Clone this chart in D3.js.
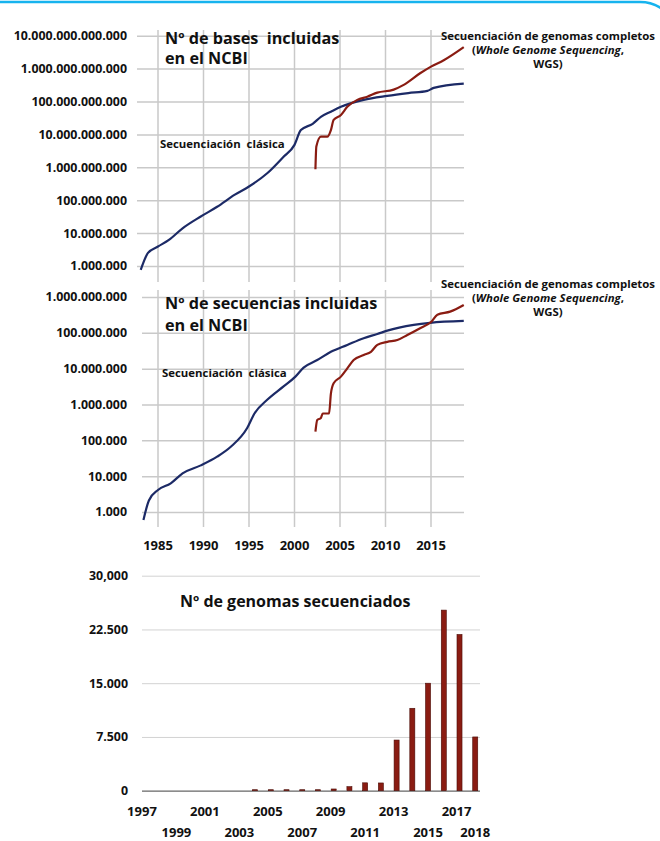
<!DOCTYPE html>
<html lang="es">
<head>
<meta charset="UTF-8">
<title>NCBI: bases, secuencias y genomas</title>
<script src="https://d3js.org/d3.v7.min.js"></script>
<style>
  body { margin: 0; background: #fff; }
  svg { display: block; }
  text { white-space: pre; }
  .axis text, .lab { font-family: "Open Sans", sans-serif; font-weight: 700; fill: #111; }
  .title { font-family: "Open Sans", sans-serif; font-weight: 700; fill: #111; }
  .note { font-family: "Open Sans", sans-serif; font-weight: 700; font-size: 11.4px; fill: #111; }
</style>
</head>
<body>
<script>
// --- data ---
const gridYears = [1985, 1990, 1995, 2000, 2005, 2010, 2015];

const basesTicks = [1e6, 1e7, 1e8, 1e9, 1e10, 1e11, 1e12, 1e13];
const basesClassicYears = [1983.1, 1983.9, 1985.0, 1986.2, 1987.7, 1989.7, 1991.5, 1993.4, 1995.0, 1997.0, 1998.8, 2000.0, 2000.7, 2002.0, 2002.9, 2004.0, 2005.1, 2007.6, 2010.2, 2012.5, 2014.6, 2015.3, 2018.6];
const basesClassic = [7.6e5, 2.5e6, 3.9e6, 6.2e6, 1.4e7, 3.2e7, 6.3e7, 1.45e8, 2.6e8, 6.6e8, 2.1e9, 4.8e9, 1.35e10, 2.1e10, 3.4e10, 4.9e10, 6.9e10, 1.12e11, 1.48e11, 1.8e11, 2.1e11, 2.6e11, 3.5e11];
const basesWgsYears = [2002.3, 2002.4, 2002.9, 2003.6, 2004.0, 2004.3, 2005.1, 2005.8, 2006.9, 2008.0, 2009.1, 2010.9, 2012.0, 2013.8, 2015.0, 2016.4, 2018.6];
const basesWgs = [8.7e8, 4.3e9, 8.5e9, 8.5e9, 1.35e10, 2.75e10, 3.9e10, 6.9e10, 1.12e11, 1.4e11, 1.86e11, 2.3e11, 3.2e11, 7.2e11, 1.15e12, 1.8e12, 4.5e12];

const seqTicks = [1e3, 1e4, 1e5, 1e6, 1e7, 1e8, 1e9];
const seqClassicYears = [1983.4, 1984.0, 1985.0, 1986.4, 1987.7, 1989.7, 1991.5, 1993.0, 1994.8, 1995.6, 1997.0, 1998.8, 2000.1, 2001.0, 2002.5, 2004.0, 2005.8, 2007.6, 2009.1, 2010.2, 2013.1, 2014.9, 2018.6];
const seqClassic = [600, 2100, 4100, 6300, 1.2e4, 2.0e4, 3.5e4, 6.6e4, 2.2e5, 5.6e5, 1.35e6, 3.2e6, 6.0e6, 1.07e7, 1.74e7, 2.95e7, 4.6e7, 7.1e7, 9.3e7, 1.15e8, 1.66e8, 1.9e8, 2.15e8];
const seqWgsYears = [2002.3, 2002.5, 2002.9, 2003.1, 2003.8, 2004.0, 2004.3, 2005.1, 2005.8, 2006.5, 2007.6, 2008.4, 2009.1, 2010.2, 2011.3, 2012.4, 2013.8, 2015.0, 2015.7, 2017.1, 2018.6];
const seqWgs = [1.74e5, 3.7e5, 4.2e5, 5.6e5, 5.6e5, 2.0e6, 3.9e6, 6.0e6, 1.02e7, 1.74e7, 2.4e7, 2.95e7, 4.6e7, 5.6e7, 6.3e7, 8.7e7, 1.35e8, 2.0e8, 3.2e8, 3.9e8, 6.0e8];

const genomeYears = [1997, 1998, 1999, 2000, 2001, 2002, 2003, 2004, 2005, 2006, 2007, 2008, 2009, 2010, 2011, 2012, 2013, 2014, 2015, 2016, 2017, 2018];
const genomes = [0, 0, 0, 0, 0, 0, 0, 60, 60, 60, 60, 100, 240, 560, 1100, 1080, 7070, 11500, 15000, 25200, 21800, 7500];
const genomeTicks = [0, 7500, 15000, 22500, 30000];
const genomeTickLabels = ["0", "7.500", "15.000", "22.500", "30,000"];
const labelRowA = [1997, 2001, 2005, 2009, 2013, 2017];
const labelRowB = [1999, 2003, 2007, 2011, 2015, 2018];

const BLUE = "#1c2a66", RED = "#8a1c12", GRID = "#c9c9c9";

const W = 660, H = 841;
const svg = d3.select("body").append("svg").attr("width", W).attr("height", H);

const dotFmt = v => d3.format(",.0f")(v).replace(/,/g, ".");
const x = d3.scaleLinear().domain([1985, 2015]).range([158, 431]);

function logPanel(opt) {
    const y = d3.scaleLog().domain(opt.ydom).range(opt.yrange);
    const g = svg.append("g");

    // vertical grid
    g.selectAll(".vg").data(gridYears).enter().append("line")
        .attr("x1", d => x(d)).attr("x2", d => x(d))
        .attr("y1", opt.vtop).attr("y2", opt.vbot)
        .attr("stroke", GRID).attr("stroke-width", 1.5);

    // horizontal grid + labels
    const ax = g.append("g").attr("class", "axis")
        .attr("transform", `translate(${opt.left},0)`)
        .call(d3.axisLeft(y).tickValues(opt.ticks).tickFormat(dotFmt)
            .tickSize(-(464 - opt.left)).tickPadding(opt.pad));
    ax.select(".domain").remove();
    ax.selectAll(".tick line").attr("stroke", GRID).attr("stroke-width", 1.5);
    ax.selectAll(".tick text").attr("font-size", opt.fs);

    const line = d3.line().x(d => x(d[0])).y(d => y(d[1])).curve(d3.curveMonotoneX);
    g.append("path").datum(d3.zip(opt.cy, opt.cv)).attr("d", line)
        .attr("fill", "none").attr("stroke", BLUE).attr("stroke-width", 2.2);
    g.append("path").datum(d3.zip(opt.wy, opt.wv)).attr("d", line)
        .attr("fill", "none").attr("stroke", RED).attr("stroke-width", 2.2);

    const t = g.append("text").attr("class", "title").attr("font-size", 16.2);
    t.append("tspan").attr("x", 165).attr("y", opt.titleY).text(opt.title);
    t.append("tspan").attr("x", 165).attr("y", opt.titleY + opt.titleGap).text("en el NCBI");

    g.append("text").attr("class", "note").attr("font-size", 11.8).attr("x", opt.clx).attr("y", opt.cly)
        .text("Secuenciación  clásica");

    const n = g.append("text").attr("class", "note").attr("text-anchor", "middle");
    n.append("tspan").attr("x", 548).attr("y", opt.noteY).text("Secuenciación de genomas completos");
    const l2 = n.append("tspan").attr("x", 548).attr("y", opt.noteY + 14);
    l2.append("tspan").text("(");
    l2.append("tspan").attr("font-style", "italic").text("Whole Genome Sequencing");
    l2.append("tspan").text(",");
    n.append("tspan").attr("x", 548).attr("y", opt.noteY + 28).text("WGS)");
    return y;
}

logPanel({
    ydom: [1e6, 1e13], yrange: [266, 35.7], ticks: basesTicks, left: 137, pad: 10, fs: 12.4,
    vtop: 30, vbot: 282,
    cy: basesClassicYears, cv: basesClassic, wy: basesWgsYears, wv: basesWgs,
    title: "Nº de bases  incluidas", titleY: 44, titleGap: 20,
    clx: 160, cly: 148, noteY: 40
});

logPanel({
    ydom: [1e3, 1e9], yrange: [512, 297], ticks: seqTicks, left: 142, pad: 15, fs: 12.4,
    vtop: 290, vbot: 527,
    cy: seqClassicYears, cv: seqClassic, wy: seqWgsYears, wv: seqWgs,
    title: "Nº de secuencias incluidas", titleY: 309, titleGap: 22,
    clx: 162, cly: 377, noteY: 288
});

// middle x labels
svg.append("g").selectAll("text").data(gridYears).enter().append("text")
    .attr("class", "lab").attr("font-size", 13).attr("text-anchor", "middle")
    .attr("x", d => x(d)).attr("y", 550).text(d => d);

// --- bar chart ---
const xb = d3.scaleBand().domain(genomeYears).range([137.1, 483.1]).paddingInner(0.68).paddingOuter(0.34);
const yb = d3.scaleLinear().domain([0, 30000]).range([790.7, 575.7]);
const gb = svg.append("g");

const axb = gb.append("g").attr("class", "axis").attr("transform", "translate(142,0)")
    .call(d3.axisLeft(yb).tickValues(genomeTicks).tickFormat((d, i) => genomeTickLabels[i])
        .tickSize(-338).tickPadding(14));
axb.select(".domain").remove();
axb.selectAll(".tick line").attr("stroke", d => d === 0 ? "#666" : "#d2d2d2").attr("stroke-width", d => d === 0 ? 1.2 : 1);
axb.selectAll(".tick text").attr("font-size", 12.4);

gb.selectAll("rect").data(genomeYears).enter().append("rect")
    .attr("x", d => xb(d)).attr("width", xb.bandwidth())
    .attr("y", (d, i) => Math.min(yb(genomes[i]), yb(0) - 1))
    .attr("height", (d, i) => Math.max(yb(0) - yb(genomes[i]), genomes[i] > 0 ? 1 : 0))
    .attr("fill", RED).attr("stroke", "#4a0d08").attr("stroke-width", 0.6);

gb.append("text").attr("class", "title").attr("font-size", 16)
    .attr("x", 180).attr("y", 607).text("Nº de genomas secuenciados");

gb.append("g").selectAll("text").data(labelRowA).enter().append("text")
    .attr("class", "lab").attr("font-size", 13).attr("text-anchor", "middle")
    .attr("x", d => xb(d) + xb.bandwidth() / 2 - 3).attr("y", 816).text(d => d);
gb.append("g").selectAll("text").data(labelRowB).enter().append("text")
    .attr("class", "lab").attr("font-size", 13).attr("text-anchor", "middle")
    .attr("x", d => xb(d) + xb.bandwidth() / 2).attr("y", 837).text(d => d);

// rounded frame at the top edge
svg.append("path").attr("d", "M-5,2 H640 A38,38 0 0 1 678,40")
    .attr("fill", "none").attr("stroke", "#16b3ee").attr("stroke-width", 2.5);
</script>
</body>
</html>
